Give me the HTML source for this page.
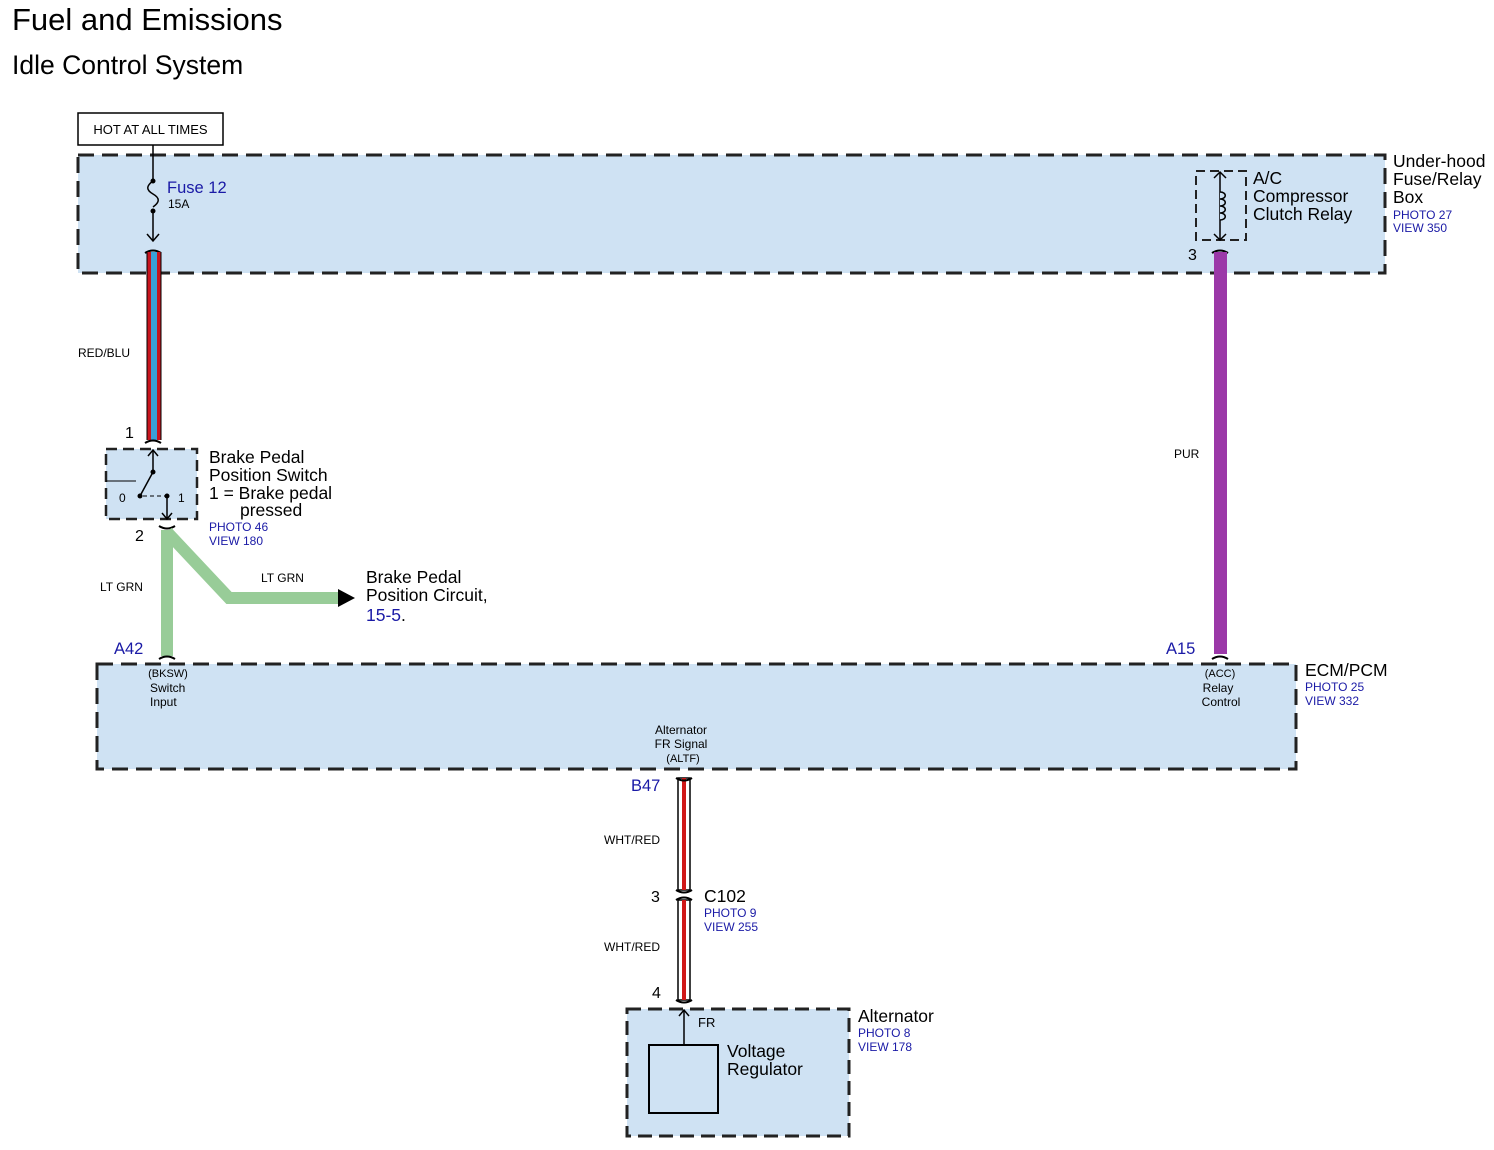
<!DOCTYPE html>
<html><head><meta charset="utf-8"><style>
html,body{margin:0;padding:0;background:#fff;}
svg{display:block;font-family:"Liberation Sans",Arial,sans-serif;}
.b{fill:#1a1aa6}
</style></head><body>
<svg width="1494" height="1150" viewBox="0 0 1494 1150" xmlns="http://www.w3.org/2000/svg">
<text x="12" y="30" font-size="31">Fuel and Emissions</text>
<text x="12" y="74" font-size="26.5">Idle Control System</text>

<rect x="78" y="113" width="145" height="32" fill="#fff" stroke="#000" stroke-width="1.5"/>
<text x="150.5" y="134" font-size="13" text-anchor="middle">HOT AT ALL TIMES</text>

<!-- fuse box -->
<rect x="78" y="155" width="1307" height="118" fill="#cfe2f3" stroke="#222" stroke-width="3" stroke-dasharray="16,8"/>
<line x1="153" y1="145" x2="153" y2="181" stroke="#000" stroke-width="1.5"/>
<path d="M153,181 c-7,5 -7,9 0,13 c7,4 7,8 0,13" fill="none" stroke="#000" stroke-width="1.5"/>
<circle cx="153" cy="181" r="2.5"/><circle cx="153" cy="211" r="2.5"/>
<line x1="153" y1="211" x2="153" y2="240" stroke="#000" stroke-width="1.5"/>
<path d="M147,234 L153,241 L159,234" fill="none" stroke="#000" stroke-width="1.5"/>
<text x="167" y="193" font-size="16.5" class="b">Fuse 12</text>
<text x="168" y="208" font-size="12">15A</text>
<path d="M145,253 q8,-5 16,0" fill="none" stroke="#000" stroke-width="2"/>

<!-- relay -->
<rect x="1196" y="171" width="50" height="69" fill="none" stroke="#222" stroke-width="2" stroke-dasharray="9,5"/>
<line x1="1220" y1="172" x2="1220" y2="240" stroke="#000" stroke-width="1.5"/>
<path d="M1214,178 L1220,172 L1226,178 M1214,234 L1220,240 L1226,234" fill="none" stroke="#000" stroke-width="1.5"/>
<path d="M1220,192 c7,0 7,7 0,7 c7,0 7,7 0,7 c7,0 7,7 0,7 c7,0 7,7 0,7" fill="#cfe2f3" stroke="#000" stroke-width="1.5"/>
<text font-size="17.5"><tspan x="1253" y="184">A/C</tspan><tspan x="1253" y="202">Compressor</tspan><tspan x="1253" y="220">Clutch Relay</tspan></text>
<text x="1188" y="260" font-size="16">3</text>
<path d="M1212,253 q8,-5 16,0" fill="none" stroke="#000" stroke-width="2"/>
<text font-size="17.5"><tspan x="1393" y="167">Under-hood</tspan><tspan x="1393" y="185">Fuse/Relay</tspan><tspan x="1393" y="203">Box</tspan></text>
<text font-size="12" class="b"><tspan x="1393" y="219">PHOTO 27</tspan><tspan x="1393" y="232">VIEW 350</tspan></text>

<!-- RED/BLU wire -->
<rect x="147" y="252" width="14" height="188" fill="#c8141e"/>
<rect x="151" y="252" width="6" height="188" fill="#3aa0d8"/>
<line x1="147" y1="252" x2="147" y2="440" stroke="#000"/>
<line x1="161" y1="252" x2="161" y2="440" stroke="#000"/>
<text x="78" y="357" font-size="12">RED/BLU</text>
<text x="125" y="438" font-size="16">1</text>
<path d="M145,443 q8,-5 16,0" fill="none" stroke="#000" stroke-width="2"/>

<!-- brake switch -->
<rect x="106" y="449" width="91" height="70" fill="#cfe2f3" stroke="#222" stroke-width="2.5" stroke-dasharray="11,6"/>
<line x1="153" y1="450" x2="153" y2="472" stroke="#000" stroke-width="1.5"/>
<path d="M148,456 L153,450 L158,456" fill="none" stroke="#000" stroke-width="1.5"/>
<circle cx="153" cy="472" r="2.5"/><line x1="153" y1="472" x2="140" y2="496" stroke="#000" stroke-width="1.5"/>
<circle cx="140" cy="496" r="2.5"/>
<polyline points="106,481 136,481" fill="none" stroke="#000" stroke-width="1"/>
<line x1="143" y1="496" x2="165" y2="496" stroke="#000" stroke-width="1" stroke-dasharray="4,3"/>
<circle cx="167" cy="496" r="2.5"/>
<line x1="167" y1="496" x2="167" y2="519" stroke="#000" stroke-width="1.5"/>
<path d="M162,513 L167,519 L172,513" fill="none" stroke="#000" stroke-width="1.5"/>
<text x="119" y="502" font-size="12">0</text><text x="178" y="502" font-size="12">1</text>
<text font-size="17.5"><tspan x="209" y="463">Brake Pedal</tspan><tspan x="209" y="481">Position Switch</tspan><tspan x="209" y="499">1 = Brake pedal</tspan><tspan x="240" y="516">pressed</tspan></text>
<text font-size="12" class="b"><tspan x="209" y="531">PHOTO 46</tspan><tspan x="209" y="545">VIEW 180</tspan></text>
<path d="M159,526 q8,5 16,0" fill="none" stroke="#000" stroke-width="2"/>
<text x="135" y="541" font-size="16">2</text>

<!-- LT GRN -->
<polyline points="167,530 167,656" fill="none" stroke="#98cc98" stroke-width="12"/>
<polyline points="167,532 229,598 340,598" fill="none" stroke="#98cc98" stroke-width="12"/>
<polygon points="338,589 355,598 338,607" fill="#000"/>
<text x="100" y="591" font-size="12">LT GRN</text>
<text x="261" y="582" font-size="12">LT GRN</text>
<text font-size="17.5"><tspan x="366" y="583">Brake Pedal</tspan><tspan x="366" y="601">Position Circuit,</tspan><tspan x="366" y="621"><tspan class="b">15-5</tspan>.</tspan></text>
<text x="114" y="654" font-size="16.5" class="b">A42</text>
<path d="M159,659 q8,-5 16,0" fill="none" stroke="#000" stroke-width="2"/>

<!-- PUR -->
<rect x="1214" y="252" width="13" height="402" fill="#9b38a8"/>
<text x="1174" y="458" font-size="12">PUR</text>
<text x="1166" y="654" font-size="16.5" class="b">A15</text>
<path d="M1212,659 q8,-5 16,0" fill="none" stroke="#000" stroke-width="2"/>

<!-- ECM -->
<rect x="97" y="664" width="1199" height="105" fill="#cfe2f3" stroke="#222" stroke-width="3" stroke-dasharray="16,8"/>
<text font-size="11" text-anchor="middle"><tspan x="168" y="677">(BKSW)</tspan></text>
<text font-size="12"><tspan x="150" y="692">Switch</tspan><tspan x="150" y="706">Input</tspan></text>
<text font-size="11" text-anchor="middle"><tspan x="1220" y="677">(ACC)</tspan></text>
<text font-size="12" text-anchor="middle"><tspan x="1218" y="692">Relay</tspan><tspan x="1221" y="706">Control</tspan></text>
<text font-size="12" text-anchor="middle"><tspan x="681" y="734">Alternator</tspan><tspan x="681" y="748">FR Signal</tspan></text>
<text font-size="11" text-anchor="middle" x="683" y="762">(ALTF)</text>
<text x="1305" y="676" font-size="17.5">ECM/PCM</text>
<text font-size="12" class="b"><tspan x="1305" y="691">PHOTO 25</tspan><tspan x="1305" y="705">VIEW 332</tspan></text>

<!-- WHT/RED -->
<g>
<rect x="678" y="778" width="12" height="112" fill="#fff" stroke="#000" stroke-width="1.5"/>
<rect x="682" y="778" width="4" height="112" fill="#d01818"/>
<rect x="678" y="900" width="12" height="100" fill="#fff" stroke="#000" stroke-width="1.5"/>
<rect x="682" y="900" width="4" height="100" fill="#d01818"/>
</g>
<path d="M676,778 q8,5 16,0 M676,890 q8,5 16,0 M676,900 q8,-5 16,0 M676,1000 q8,5 16,0" fill="none" stroke="#000" stroke-width="2"/>
<text x="631" y="791" font-size="16.5" class="b">B47</text>
<text x="604" y="844" font-size="12">WHT/RED</text>
<text x="604" y="951" font-size="12">WHT/RED</text>
<text x="651" y="902" font-size="16">3</text>
<text x="652" y="998" font-size="16">4</text>
<text x="704" y="902" font-size="17.5">C102</text>
<text font-size="12" class="b"><tspan x="704" y="917">PHOTO 9</tspan><tspan x="704" y="931">VIEW 255</tspan></text>

<!-- Alternator -->
<rect x="627" y="1009" width="222" height="127" fill="#cfe2f3" stroke="#222" stroke-width="3" stroke-dasharray="14,7"/>
<line x1="684" y1="1010" x2="684" y2="1045" stroke="#000" stroke-width="1.5"/>
<path d="M679,1016 L684,1010 L689,1016" fill="none" stroke="#000" stroke-width="1.5"/>
<rect x="649" y="1045" width="69" height="68" fill="#cfe2f3" stroke="#000" stroke-width="2"/>
<text x="698" y="1027" font-size="13">FR</text>
<text font-size="17.5"><tspan x="727" y="1057">Voltage</tspan><tspan x="727" y="1075">Regulator</tspan></text>
<text x="858" y="1022" font-size="17.5">Alternator</text>
<text font-size="12" class="b"><tspan x="858" y="1037">PHOTO 8</tspan><tspan x="858" y="1051">VIEW 178</tspan></text>
</svg>
</body></html>
